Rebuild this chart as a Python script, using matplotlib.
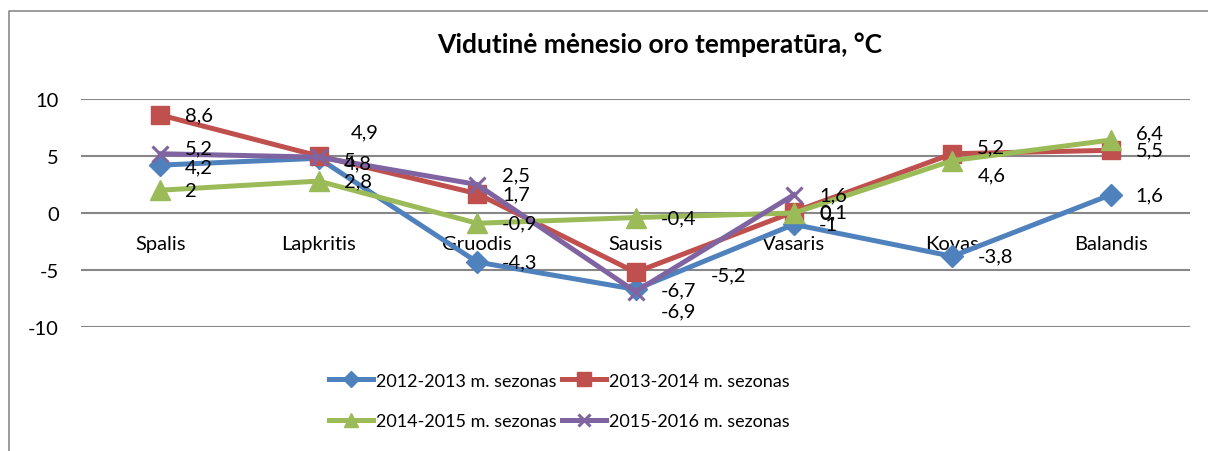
"""Vidutinė mėnesio oro temperatūra -- line chart, four seasons."""
import matplotlib
matplotlib.use("Agg")
import matplotlib.pyplot as plt
import numpy as np
from matplotlib.lines import Line2D

plt.rcParams["font.family"] = ["Lato", "DejaVu Sans"]
plt.rcParams["axes.unicode_minus"] = False

# Data
months = ["Spalis", "Lapkritis", "Gruodis", "Sausis", "Vasaris", "Kovas", "Balandis"]
season_names = ["2012-2013 m. sezonas", "2013-2014 m. sezonas",
                "2014-2015 m. sezonas", "2015-2016 m. sezonas"]
t_2012 = [4.2, 4.8, -4.3, -6.7, -1, -3.8, 1.6]
t_2013 = [8.6, 5, 1.7, -5.2, 0.1, 5.2, 5.5]
t_2014 = [2, 2.8, -0.9, -0.4, 0, 4.6, 6.4]
t_2015 = [5.2, 4.9, 2.5, -6.9, 1.6, np.nan, np.nan]
y_ticks = [-10, -5, 0, 5, 10]

# Styling
COLORS = ["#4F81BD", "#C0504D", "#9BBB59", "#8064A2"]
MARKERS = [("D", 11, 1), ("s", 13, 1), ("^", 14, 1), ("x", 12, 2.2)]
FS = 14.5
# label offsets (points) where the default "right" placement was moved
LABEL_OFFS = {
    (0, 0): (18, -1), (0, 1): (18, -3),
    (1, 1): (18, -3), (1, 3): (54, -2), (1, 5): (18, 5),
    (2, 5): (18, -10), (2, 6): (18, 5),
    (3, 0): (18, 4), (3, 1): (23, 18), (3, 2): (18, 7), (3, 3): (18, -14),
}

fig = plt.figure(figsize=(12.08, 4.52), dpi=100)
ax = fig.add_axes([81 / 1208, 124 / 452, 1109 / 1208, 228 / 452])

x = np.arange(len(months)) + 0.5
series = [t_2012, t_2013, t_2014, t_2015]
handles = []
for k, (vals, name) in enumerate(zip(series, season_names)):
    m, ms, mew = MARKERS[k]
    h, = ax.plot(x, vals, color=COLORS[k], linewidth=3.6, marker=m, markersize=ms,
                 markeredgewidth=mew, markeredgecolor=COLORS[k], label=name,
                 solid_joinstyle="round", zorder=3 + k)
    handles.append(h)
    for i, v in enumerate(vals):
        if np.isnan(v):
            continue
        dx, dy = LABEL_OFFS.get((k, i), (18, 0))
        ax.annotate(f"{v:g}".replace(".", ","), (x[i], v), xytext=(dx, dy),
                    textcoords="offset points", ha="left", va="center",
                    fontsize=FS, color="black", zorder=10)

ax.set_xlim(0, len(months))
ax.set_ylim(-10, 10)
ax.set_yticks(y_ticks, [str(t) for t in y_ticks])
ax.set_xticks(x, months)
ax.spines["bottom"].set_position(("data", 0))
for s in ax.spines.values():
    s.set_visible(False)
ax.tick_params(axis="both", length=0, labelsize=FS)
ax.tick_params(axis="y", pad=16)
ax.tick_params(axis="x", pad=16)
ax.grid(axis="y", color="#878787", linewidth=1.5)
ax.set_axisbelow(True)

fig.text(660 / 1208, 1 - 45 / 452, "Vidutinė mėnesio oro temperatūra, °C",
         ha="center", va="center", fontsize=19, fontweight="bold")

# legend rows: (2012, 2013), (2014, 2015)
order = [0, 2, 1, 3]
ax.legend([handles[i] for i in order], [season_names[i] for i in order],
          loc="center", bbox_to_anchor=(559 / 1208, 1 - 402 / 452),
          bbox_transform=fig.transFigure, ncol=2, frameon=False, fontsize=13,
          handlelength=2.45, handletextpad=0.15, columnspacing=0.3,
          labelspacing=1.35, markerscale=0.75)

# chart border (cropped at right and bottom)
bx, by = 9 / 1208, 1 - 12 / 452
fig.add_artist(Line2D([bx, bx, 1], [0, by, by], color="#8a8a8a", linewidth=1.2))

fig.savefig("out.png", dpi=100)
